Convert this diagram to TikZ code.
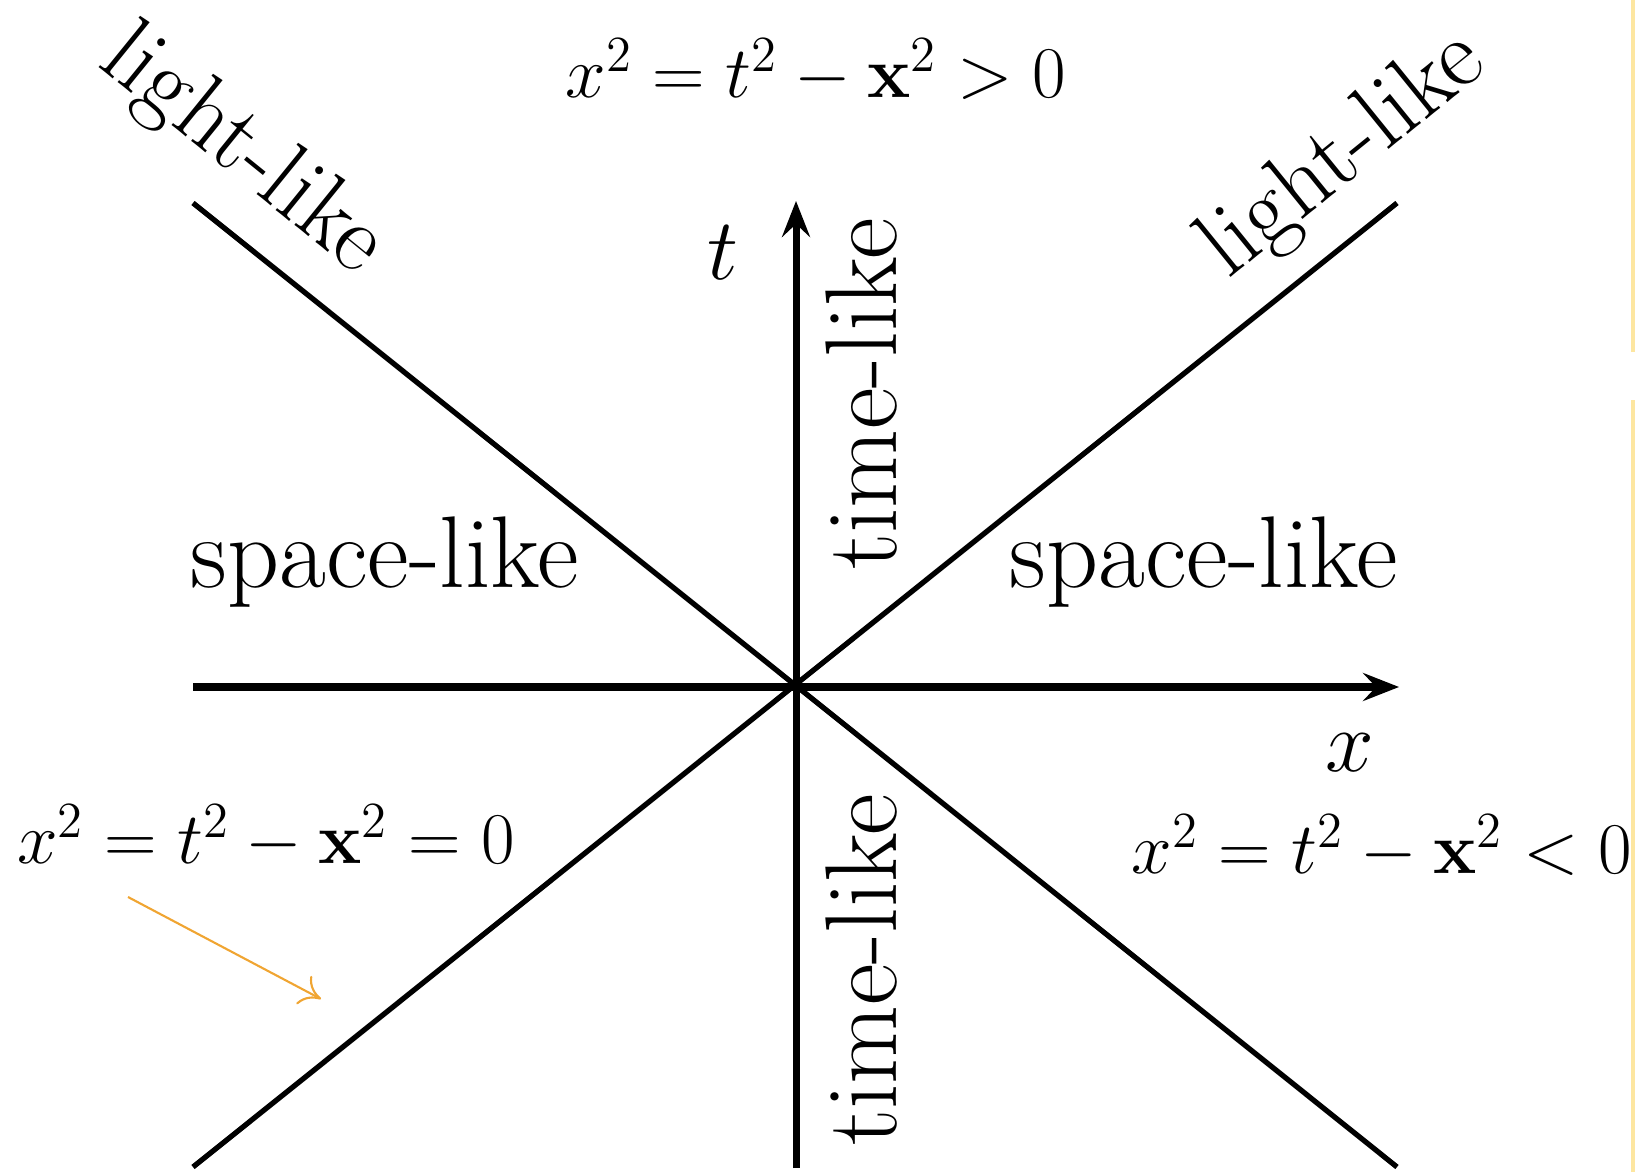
\documentclass[tikz,border=0pt]{standalone}
\usepackage{amsmath}
\usetikzlibrary{arrows.meta}

\begin{document}
\begin{tikzpicture}[
    axis/.style={line width=2pt, -{Stealth[length=3.6mm, width=2.8mm, inset=1.3mm]}},
    cone/.style={line width=1.5pt},
    lbl/.style={font=\fontsize{29}{33}\selectfont, inner sep=0pt},
    diag/.style={font=\fontsize{27.5}{32}\selectfont, inner sep=0pt},
    eqn/.style={font=\fontsize{21.3}{26}\selectfont, inner sep=0pt},
    hint/.style={draw={rgb,255:red,240;green,165;blue,50}, line width=0.6pt, -{To[length=2mm, width=3.2mm]}}
]
    % Frame
    \useasboundingbox (0,0) rectangle (16.35,11.72);
    \fill[yellow!50!orange!35] (16.31,11.72) rectangle (16.35,8.20);
    \fill[yellow!50!orange!35] (16.31,7.72) rectangle (16.35,0);

    % Points
    \coordinate (O) at (7.96,4.85);
    \coordinate (LT) at (1.93,9.69);
    \coordinate (RT) at (13.97,9.69);
    \coordinate (LB) at (1.93,0.05);
    \coordinate (RB) at (13.97,0.05);
    \coordinate (XL) at (1.93,4.85);
    \coordinate (XR) at (13.99,4.85);
    \coordinate (TB) at (7.96,0.04);
    \coordinate (TT) at (7.96,9.71);

    % Light cone
    \draw[cone] (LT) -- (RB);
    \draw[cone] (LB) -- (RT);

    % Axes
    \draw[axis] (XL) -- (XR);
    \draw[axis] (TB) -- (TT);
    \node[lbl] (tlabel) at (7.23,9.19) {$t$};
    \node[lbl] (xlabel) at (13.50,4.19) {$x$};

    % Regions
    \node[lbl] (spaceL) at (3.85,6.10) {space-like};
    \node[lbl] (spaceR) at (12.04,6.10) {space-like};
    \node[lbl, rotate=90] (timeU) at (8.62,7.78) {time-like};
    \node[lbl, rotate=90] (timeD) at (8.62,2.02) {time-like};
    \node[diag, rotate=-39] (lightL) at (2.42,10.20) {light-like};
    \node[diag, rotate=39] (lightR) at (13.44,10.16) {light-like};

    % Intervals
    \node[eqn] (eqTop) at (8.16,11.01) {$x^2 = t^2 - \mathbf{x}^2 > 0$};
    \node[eqn] (eqLeft) at (2.66,3.35) {$x^2 = t^2 - \mathbf{x}^2 = 0$};
    \node[eqn, anchor=east] (eqRight) at (16.33,3.25) {$x^2 = t^2 - \mathbf{x}^2 < 0$};

    % Pointer to the cone
    \coordinate (hintA) at (1.28,2.75);
    \coordinate (hintB) at (3.21,1.73);
    \draw[hint] (hintA) -- (hintB);
\end{tikzpicture}
\end{document}
